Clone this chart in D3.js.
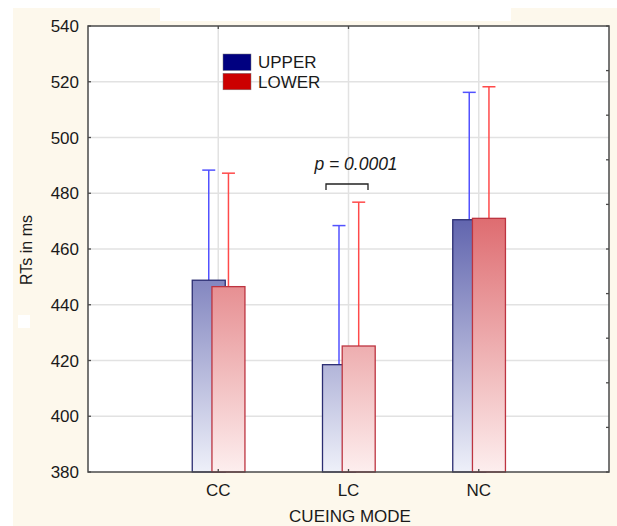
<!DOCTYPE html>
<html>
<head>
<meta charset="utf-8">
<script src="https://cdn.jsdelivr.net/npm/d3@7"></script>
<style>
  body { margin: 0; background: #fff; }
  text { font-family: "Liberation Sans", Arial, sans-serif; fill: #1a1a1a; }
</style>
</head>
<body>
<div id="chart"></div>
<script>
// bar chart: RTs by cueing mode, upper vs lower

var categories = ["CC", "LC", "NC"];
var upperMeans = [448.8, 418.5, 470.5];
var lowerMeans = [446.5, 425.2, 471.0];
var upperErr = [39.5, 49.9, 45.7];   // + error, upper series
var lowerErr = [40.7, 51.6, 47.2];   // + error, lower series
var seriesNames = ["UPPER", "LOWER"];
var yTicks = [380, 400, 420, 440, 460, 480, 500, 520, 540];
var pLabel = "p = 0.0001";

var width = 617, height = 526;
var plot = {left: 88, right: 609, top: 26, bottom: 472};

var svg = d3.select("#chart").append("svg")
    .attr("width", width)
    .attr("height", height);

// background panels
svg.append("rect").attr("x", 13).attr("y", 8).attr("width", width - 13).attr("height", height - 8).attr("fill", "#fdf8ec");
svg.append("rect").attr("x", 160).attr("y", 0).attr("width", 351).attr("height", 21).attr("fill", "#fff");
svg.append("rect").attr("x", 18).attr("y", 315).attr("width", 12).attr("height", 13).attr("fill", "#fff");
svg.append("rect").attr("x", plot.left).attr("y", plot.top)
    .attr("width", plot.right - plot.left).attr("height", plot.bottom - plot.top).attr("fill", "#fff");

var xScale = d3.scalePoint()
    .domain(categories)
    .range([plot.left, plot.right])
    .padding(1);

var yScale = d3.scaleLinear()
    .domain([380, 540])
    .range([plot.bottom, plot.top]);

// gradients (same for every bar, fixed to the plot)
var defs = svg.append("defs");
function grad(id, c1, c2) {
  var g = defs.append("linearGradient").attr("id", id)
      .attr("gradientUnits", "userSpaceOnUse")
      .attr("x1", 0).attr("x2", 0)
      .attr("y1", yScale(472)).attr("y2", yScale(380));
  g.append("stop").attr("offset", 0).attr("stop-color", c1);
  g.append("stop").attr("offset", 1).attr("stop-color", c2);
}
grad("gUp", "#5f63ad", "#eef0f9");
grad("gLo", "#de6b6f", "#fdeeee");

// grid
svg.append("g").selectAll("line")
    .data(yTicks.slice(1, -1))
    .enter().append("line")
    .attr("x1", plot.left).attr("x2", plot.right)
    .attr("y1", d => yScale(d)).attr("y2", d => yScale(d))
    .attr("stroke", "#e2e2e2").attr("stroke-width", 1.5);
svg.append("g").selectAll("line")
    .data(categories)
    .enter().append("line")
    .attr("x1", d => xScale(d)).attr("x2", d => xScale(d))
    .attr("y1", plot.top).attr("y2", plot.bottom)
    .attr("stroke", "#e2e2e2").attr("stroke-width", 1.5);

var barW = 33;
var series = [
  {name: seriesNames[0], means: upperMeans, err: upperErr, off: -26, fill: "url(#gUp)", stroke: "#2b2d72", ebar: "#5252ff"},
  {name: seriesNames[1], means: lowerMeans, err: lowerErr, off: -6.3, fill: "url(#gLo)", stroke: "#bd3440", ebar: "#ff4a4a"}
];

series.forEach(function(s) {
  var g = svg.append("g");
  var rows = categories.map((c, i) => ({cat: c, v: s.means[i], e: s.err[i]}));
  // error bars (drawn behind the bar)
  g.selectAll(".eb").data(rows).enter().append("line")
    .attr("x1", d => xScale(d.cat) + s.off + barW / 2)
    .attr("x2", d => xScale(d.cat) + s.off + barW / 2)
    .attr("y1", d => yScale(d.v))
    .attr("y2", d => yScale(d.v + d.e))
    .attr("stroke", s.ebar).attr("stroke-width", 1.5);
  g.selectAll(".cap").data(rows).enter().append("line")
    .attr("x1", d => xScale(d.cat) + s.off + barW / 2 - 6.5)
    .attr("x2", d => xScale(d.cat) + s.off + barW / 2 + 6.5)
    .attr("y1", d => yScale(d.v + d.e))
    .attr("y2", d => yScale(d.v + d.e))
    .attr("stroke", s.ebar).attr("stroke-width", 1.5);
  g.selectAll("rect").data(rows).enter().append("rect")
    .attr("x", d => xScale(d.cat) + s.off)
    .attr("y", d => yScale(d.v))
    .attr("width", barW)
    .attr("height", d => yScale(380) - yScale(d.v))
    .attr("fill", s.fill)
    .attr("stroke", s.stroke).attr("stroke-width", 1.3);
});

// frame and ticks
var axisCol = "#4a4a4a";
svg.append("rect").attr("x", plot.left).attr("y", plot.top)
    .attr("width", plot.right - plot.left).attr("height", plot.bottom - plot.top)
    .attr("fill", "none").attr("stroke", axisCol).attr("stroke-width", 1.5);

svg.append("g").selectAll("line").data(yTicks).enter().append("line")
    .attr("x1", plot.left).attr("x2", plot.left + 3)
    .attr("y1", d => yScale(d)).attr("y2", d => yScale(d))
    .attr("stroke", axisCol).attr("stroke-width", 1.3);

// right axis has its own 10 divisions
var rightTicks = d3.range(0, 11);
var rScale = d3.scaleLinear().domain([0, 10]).range([plot.bottom, plot.top]);
svg.append("g").selectAll("line").data(rightTicks).enter().append("line")
    .attr("x1", plot.right - 3).attr("x2", plot.right)
    .attr("y1", d => rScale(d)).attr("y2", d => rScale(d))
    .attr("stroke", axisCol).attr("stroke-width", 1.3);

svg.append("g").selectAll("line").data(categories).enter().append("line")
    .attr("x1", d => xScale(d)).attr("x2", d => xScale(d))
    .attr("y1", plot.bottom).attr("y2", plot.bottom - 3)
    .attr("stroke", axisCol).attr("stroke-width", 1.3);
svg.append("g").selectAll("line").data(categories).enter().append("line")
    .attr("x1", d => xScale(d)).attr("x2", d => xScale(d))
    .attr("y1", plot.top).attr("y2", plot.top + 3)
    .attr("stroke", axisCol).attr("stroke-width", 1.3);

// tick labels
svg.append("g").selectAll("text").data(yTicks).enter().append("text")
    .attr("x", 79).attr("y", d => yScale(d))
    .attr("dy", "0.36em")
    .attr("text-anchor", "end")
    .style("font-size", "17px")
    .text(d => d);

svg.append("g").selectAll("text").data(categories).enter().append("text")
    .attr("x", d => xScale(d)).attr("y", 496)
    .attr("text-anchor", "middle")
    .style("font-size", "17px")
    .text(d => d);

// axis titles
svg.append("text")
    .attr("x", 350).attr("y", 522)
    .attr("text-anchor", "middle")
    .style("font-size", "17px")
    .text("CUEING MODE");

svg.append("text")
    .attr("transform", "translate(32,250) rotate(-90)")
    .attr("text-anchor", "middle")
    .style("font-size", "16px")
    .text("RTs in ms");

// legend
var legCols = ["#000080", "#cc0000"];
var leg = svg.append("g");
seriesNames.forEach(function(n, i) {
  leg.append("rect").attr("x", 223).attr("y", 54 + i * 19.3)
    .attr("width", 28).attr("height", 16.5)
    .attr("fill", legCols[i]).attr("stroke", "#777").attr("stroke-width", 0.5);
  leg.append("text").attr("x", 258).attr("y", 68 + i * 19.5)
    .style("font-size", "17px")
    .text(n);
});

// significance bracket
svg.append("path")
    .attr("d", "M326,190 V184 H368 V190")
    .attr("fill", "none").attr("stroke", "#222").attr("stroke-width", 1.3);
svg.append("text")
    .attr("x", 356).attr("y", 170)
    .attr("text-anchor", "middle")
    .style("font-size", "17.5px").style("font-style", "italic")
    .text(pLabel);
</script>
</body>
</html>
